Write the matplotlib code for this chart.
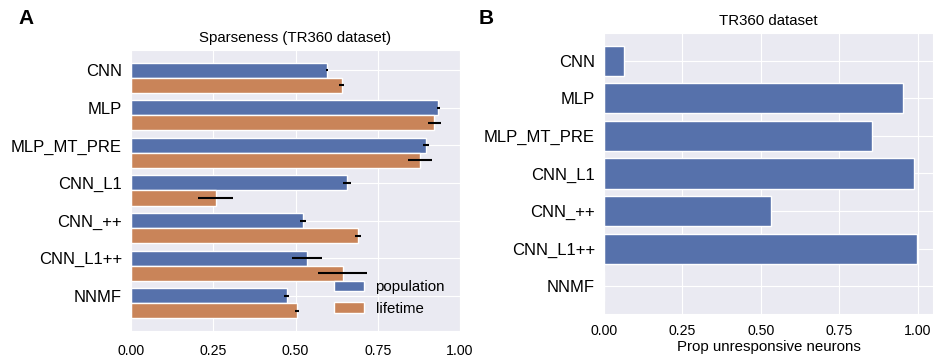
import numpy as np
import matplotlib
matplotlib.use("Agg")
import matplotlib.pyplot as plt
import seaborn as sns

# data
models = ["CNN", "MLP", "MLP_MT_PRE", "CNN_L1", "CNN_++", "CNN_L1++", "NNMF"]
pop_sparse = [0.595, 0.934, 0.897, 0.656, 0.522, 0.536, 0.473]
pop_err = [0.003, 0.004, 0.009, 0.012, 0.009, 0.046, 0.007]
life_sparse = [0.640, 0.922, 0.878, 0.258, 0.690, 0.643, 0.504]
life_err = [0.008, 0.019, 0.036, 0.053, 0.009, 0.074, 0.007]
prop_unresp = [0.065, 0.951, 0.854, 0.987, 0.532, 0.998, 0.0]
ticks = [0.0, 0.25, 0.5, 0.75, 1.0]

sns.set_style("darkgrid")
plt.rcParams["font.family"] = ["Liberation Sans", "DejaVu Sans"]
plt.rcParams["text.color"] = "black"
plt.rcParams["axes.labelcolor"] = "black"
plt.rcParams["xtick.color"] = "black"
plt.rcParams["ytick.color"] = "black"

blue = "#5671AB"
orange = "#C98459"

fig = plt.figure(figsize=(9.44, 3.64), dpi=100)
axA = fig.add_axes([0.1388, 0.0907, 0.3485, 0.772])
axB = fig.add_axes([0.6398, 0.1374, 0.3485, 0.772])

# panel A: sparseness
y = np.arange(len(models))
h = 0.4
axA.barh(y, pop_sparse, height=h, color=blue, edgecolor="white", linewidth=1,
         label="population")
axA.barh(y + h, life_sparse, height=h, color=orange, edgecolor="white", linewidth=1,
         label="lifetime")
axA.errorbar(pop_sparse, y, xerr=pop_err, fmt="none", ecolor="black", elinewidth=1.5)
axA.errorbar(life_sparse, y + h, xerr=life_err, fmt="none", ecolor="black", elinewidth=1.5)
axA.set_yticks(y)
axA.set_yticklabels(models, fontsize=12)
axA.invert_yaxis()
axA.set_xlim(0, 1.0)
axA.set_xticks(ticks)
axA.set_xticklabels(["%.2f" % t for t in ticks], fontsize=10.2)
axA.tick_params(axis="y", pad=3)
axA.tick_params(axis="x", pad=6)
axA.set_title("Sparseness (TR360 dataset)", fontsize=10.8)
axA.legend(loc="lower right", frameon=False, fontsize=10.8, handlelength=2.0,
           borderaxespad=0.6)

# panel B: unresponsive neurons
axB.barh(y, prop_unresp, height=0.8, color=blue, edgecolor="white", linewidth=1)
axB.set_yticks(y)
axB.set_yticklabels(models, fontsize=12)
axB.invert_yaxis()
axB.set_xticks(ticks)
axB.set_xticklabels(["%.2f" % t for t in ticks], fontsize=10.2)
axB.tick_params(axis="y", pad=3)
axB.tick_params(axis="x", pad=4)
axB.set_xlabel("Prop unresponsive neurons", fontsize=10.8, labelpad=1)
axB.set_title("TR360 dataset", fontsize=10.8)

fig.text(0.020, 0.975, "A", fontsize=15, fontweight="bold", va="top")
fig.text(0.507, 0.975, "B", fontsize=15, fontweight="bold", va="top")

fig.savefig("out.png", dpi=100)
